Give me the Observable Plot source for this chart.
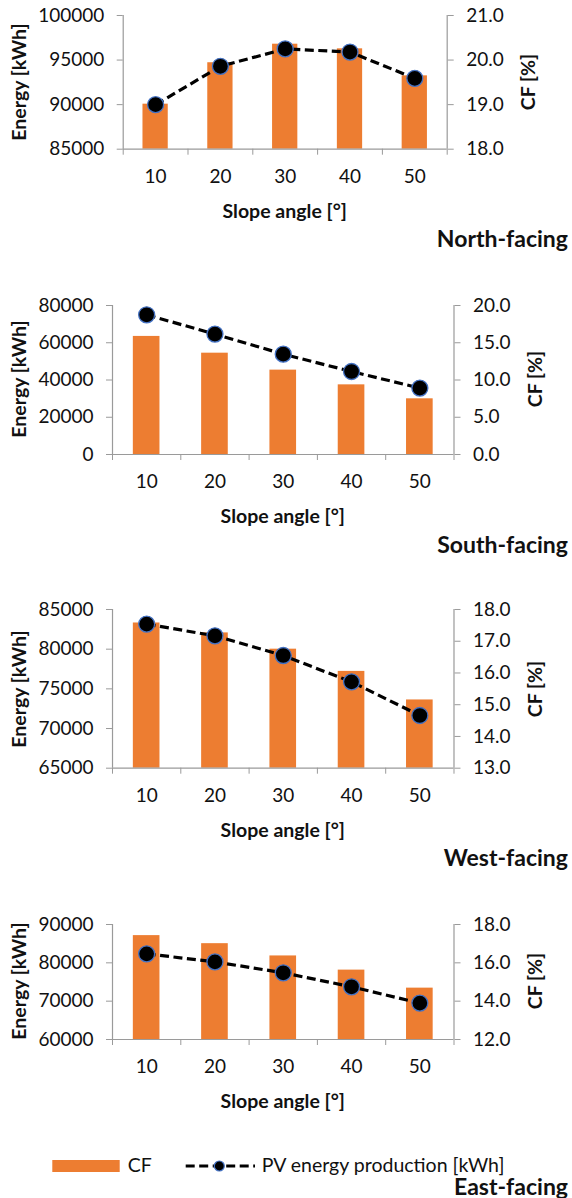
<!DOCTYPE html>
<html>
<head>
<meta charset="utf-8">
<script src="https://cdn.jsdelivr.net/npm/d3@7"></script>
<script src="https://cdn.jsdelivr.net/npm/@observablehq/plot@0.6"></script>
<style>
  html, body { margin: 0; padding: 0; background: #fff; }
  #root { position: relative; width: 572px; height: 1198px; overflow: hidden; font-family: Lato, "Open Sans", sans-serif; color: #111; }
  #root svg { position: absolute; left: 0; }
  .t { position: absolute; white-space: nowrap; line-height: 1; }
  .b { font-weight: bold; }
</style>
</head>
<body>
<div id="root"></div>
<script>
// ---- data ----
const angles = [10, 20, 30, 40, 50];
const panelNames = ["North-facing", "South-facing", "West-facing", "East-facing"];

const northEnergy = [90050, 94700, 96780, 96260, 93230];
const northCF = [19.0, 19.86, 20.25, 20.18, 19.59];

const southEnergy = [63400, 54400, 45300, 37400, 29900];
const southCF = [18.75, 16.16, 13.47, 11.14, 8.91];

const westEnergy = [83300, 82050, 80000, 77200, 73600];
const westCF = [17.54, 17.17, 16.55, 15.72, 14.66];

const eastEnergy = [87100, 85000, 81800, 78100, 73400];
const eastCF = [16.47, 16.05, 15.48, 14.75, 13.9];

const energyTicks = [
  [85000, 90000, 95000, 100000],
  [0, 20000, 40000, 60000, 80000],
  [65000, 70000, 75000, 80000, 85000],
  [60000, 70000, 80000, 90000]
];
const cfTicks = [
  [18, 19, 20, 21],
  [0, 5, 10, 15, 20],
  [13, 14, 15, 16, 17, 18],
  [12, 14, 16, 18]
];
const energySeries = [northEnergy, southEnergy, westEnergy, eastEnergy];
const cfSeries = [northCF, southCF, westCF, eastCF];

const xLabel = "Slope angle [°]";
const yLabel = "Energy [kWh]";
const y2Label = "CF [%]";
const legendBar = "CF";
const legendLine = "PV energy production [kWh]";

// ---- layout (pixel frame of each panel) ----
const layout = [
  {top: 15,    bottom: 148.7,  left: 122.7, right: 446.7, cfX: 528, nameY: 238},
  {top: 304.7, bottom: 453.7,  left: 112,   right: 453.5, cfX: 535, nameY: 543.5},
  {top: 609.3, bottom: 768,    left: 112,   right: 453.5, cfX: 535, nameY: 857},
  {top: 923.7, bottom: 1038.7, left: 112,   right: 453.5, cfX: 535, nameY: 1186}
];

const ORANGE = "#ED7D31";
const AXIS = "#9a9a9a";
const MARKER_STROKE = "#4472C4";
const TICK_FS = 19;
const TITLE_FS = 19.5;
const NAME_FS = 23;
const root = document.getElementById("root");

function addText(txt, x, y, opts = {}) {
  const d = document.createElement("div");
  d.className = "t" + (opts.bold ? " b" : "");
  d.textContent = txt;
  d.style.fontSize = (opts.size || TICK_FS) + "px";
  d.style.left = x + "px";
  d.style.top = y + "px";
  let tr = opts.anchor === "end" ? "translate(-100%,-50%)" : opts.anchor === "start" ? "translate(0,-50%)" : "translate(-50%,-50%)";
  if (opts.rotate) tr += " rotate(" + opts.rotate + "deg)";
  d.style.transform = tr;
  root.appendChild(d);
}

layout.forEach((L, i) => {
  const data = angles.map((a, j) => ({angle: a, energy: energySeries[i][j], cf: cfSeries[i][j]}));
  const eT = energyTicks[i], cT = cfTicks[i];
  const eDom = [eT[0], eT[eT.length - 1]];
  const cDom = [cT[0], cT[cT.length - 1]];
  const cfToE = d3.scaleLinear().domain(cDom).range(eDom);
  const mt = 12, mb = 45;
  const height = (L.bottom - L.top) + mt + mb;
  const plotW = L.right - L.left;
  const inset = (plotW / angles.length) * 0.305;
  const bounds = [5, 15, 25, 35, 45, 55];

  const chart = Plot.plot({
    width: 572,
    height,
    marginTop: mt,
    marginBottom: mb,
    marginLeft: L.left,
    marginRight: 572 - L.right,
    style: {fontFamily: "Lato, 'Open Sans', sans-serif", fontSize: TICK_FS + "px", background: "transparent", overflow: "visible"},
    x: {type: "linear", domain: [5, 55]},
    y: {domain: eDom},
    marks: [
      Plot.rectY(data, {x1: d => d.angle - 5, x2: d => d.angle + 5, y1: () => eDom[0], y2: "energy", insetLeft: inset, insetRight: inset, fill: ORANGE}),
      Plot.ruleY([eDom[0]], {stroke: AXIS, strokeWidth: 1.2}),
      Plot.ruleX([5, 55], {stroke: AXIS, strokeWidth: 1.2}),
      Plot.axisY(eT, {anchor: "left", tickSize: 6, tickPadding: 13, stroke: AXIS, fill: "#111", fontSize: TICK_FS, tickFormat: d3.format("d"), label: null}),
      Plot.axisY(cT.map(cfToE), {anchor: "right", tickSize: 6, tickPadding: 13, stroke: AXIS, fill: "#111", fontSize: TICK_FS, tickFormat: d => cfToE.invert(d).toFixed(1), label: null}),
      Plot.axisX(bounds, {anchor: "bottom", tickSize: 6, stroke: AXIS, tickFormat: () => "", label: null}),
      Plot.axisX(angles, {anchor: "bottom", tickSize: 0, tickPadding: 20, fill: "#111", fontSize: TICK_FS, label: null}),
      Plot.line(data, {x: "angle", y: d => cfToE(d.cf), stroke: "#000", strokeWidth: 3.2, strokeDasharray: "9,4.5", strokeLinecap: "butt"}),
      Plot.dot(data, {x: "angle", y: d => cfToE(d.cf), r: 8, fill: "#000", stroke: MARKER_STROKE, strokeWidth: 1.3})
    ]
  });
  chart.style.top = (L.top - mt) + "px";
  root.appendChild(chart);

  const midY = (L.top + L.bottom) / 2;
  addText(yLabel, 19, midY, {bold: true, size: TITLE_FS, rotate: -90});
  addText(y2Label, L.cfX, midY, {bold: true, size: TITLE_FS, rotate: -90});
  addText(xLabel, (L.left + L.right) / 2, L.bottom + 62, {bold: true, size: TITLE_FS});
  addText(panelNames[i], 568, L.nameY, {bold: true, size: NAME_FS, anchor: "end"});
});

// ---- legend ----
const leg = d3.select(root).append("svg")
  .attr("width", 572).attr("height", 30)
  .style("top", "1151px");
const ly = 15;
leg.append("rect").attr("x", 52.3).attr("y", ly - 6).attr("width", 67.4).attr("height", 12).attr("fill", ORANGE);
leg.append("line").attr("x1", 185.7).attr("x2", 255).attr("y1", ly).attr("y2", ly)
  .attr("stroke", "#000").attr("stroke-width", 3.2).attr("stroke-dasharray", "9,4.5");
leg.append("circle").attr("cx", 219.3).attr("cy", ly).attr("r", 5).attr("fill", "#000").attr("stroke", MARKER_STROKE).attr("stroke-width", 1.2);
addText(legendBar, 127.7, 1165, {size: TICK_FS + 0.5, anchor: "start"});
addText(legendLine, 261.7, 1165, {size: TICK_FS + 0.5, anchor: "start"});
</script>
</body>
</html>
